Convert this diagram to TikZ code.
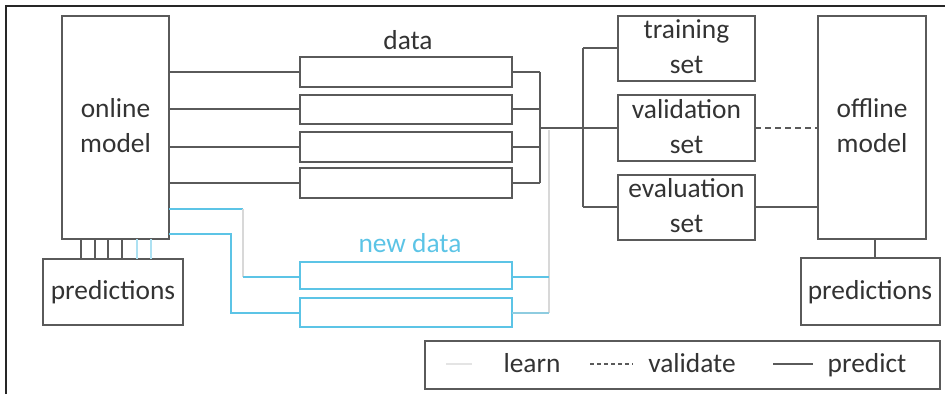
\documentclass[tikz,border=0pt]{standalone}
\usepackage{fontspec}
\setmainfont{Carlito}
\definecolor{ln}{HTML}{5A5A5A}
\definecolor{tx}{HTML}{333333}
\definecolor{nb}{HTML}{5CC4E6}
\definecolor{lg}{HTML}{D8D8D8}
\begin{document}
\begin{tikzpicture}[x=1bp,y=-1bp,
  every node/.style={font=\fontsize{27.5}{35}\selectfont, text=tx, align=center, inner sep=0pt},
  box/.style={draw=ln, line width=1.4bp, rectangle},
  wire/.style={draw=ln, line width=1.4bp},
  bwire/.style={draw=nb, line width=1.4bp},
  lwire/.style={draw=lg, line width=1.4bp},
  legtext/.style={anchor=base}]
\useasboundingbox (0,0) rectangle (945,394);
% frame
\draw[line width=1.4bp, draw=black!85] (6,394) -- (6,6) -- (945,6);
% online model
\draw[box] (62,16) rectangle (169,239);
\node (om) at (115.5,126) {online\\model};
% predictions left
\draw[box] (43,259) rectangle (183,325);
\node (pl) at (113,292) {predictions};
% data boxes
\foreach \ya/\yb in {57/87,95/124,132/162,168/198}{
  \draw[box] (300,\ya) rectangle (512,\yb);
}
\node (dl) at (408,40) {data};
% new data boxes
\draw[draw=nb, line width=1.4bp] (300,262) rectangle (512,289);
\draw[draw=nb, line width=1.4bp] (300,298) rectangle (512,327);
\node[text=nb] (ndl) at (410,243) {new data};
% online -> data
\foreach \y in {72,109,147,183}{
  \draw[wire] (169,\y) -- (300,\y);
  \draw[wire] (512,\y) -- (540,\y);
}
\draw[wire] (540,72) -- (540,183);
% training/validation/evaluation
\draw[box] (618,16) rectangle (755,81);
\node (tr) at (686.5,47) {training\\set};
\draw[box] (618,95) rectangle (755,161);
\node (va) at (686.5,127) {validation\\set};
\draw[box] (618,175) rectangle (755,240);
\node (ev) at (686.5,206) {evaluation\\set};
\draw[wire] (540,128) -- (618,128);
\draw[wire] (583,48) -- (583,207);
\draw[wire] (583,48) -- (618,48);
\draw[wire] (583,207) -- (618,207);
% offline model
\draw[box] (818,16) rectangle (926,239);
\node (of) at (872,126) {offline\\model};
\draw[wire, dash pattern=on 6bp off 4bp] (755,128) -- (818,128);
\draw[wire] (755,207) -- (818,207);
% predictions right
\draw[box] (801,258) rectangle (940,325);
\node (pr) at (870,292) {predictions};
\draw[wire] (875,239) -- (875,258);
% learn vertical
\draw[lwire] (549,130) -- (549,313);
% new data connections
\draw[bwire] (169,209) -- (243,209);
\draw[lwire] (243,209) -- (243,277);
\draw[bwire] (243,277) -- (300,277);
\draw[bwire] (169,234) -- (231,234) -- (231,313) -- (300,313);
\draw[bwire] (512,277) -- (549,277);
\draw[draw=nb!60!lg, line width=1.4bp] (512,313) -- (549,313);
% short lines online -> predictions
\foreach \x in {81,95,108,122}{ \draw[wire] (\x,239) -- (\x,259); }
\foreach \x in {137,151}{ \draw[draw=nb!50, line width=1.4bp] (\x,239) -- (\x,259); }
% legend
\draw[box] (425,341) rectangle (940,389);
\draw[draw=lg!70, line width=1.4bp] (446,364) -- (472,364);
\node[legtext] (lgl) at (532,372) {learn};
\draw[wire, dash pattern=on 4bp off 3bp] (590,364) -- (633,364);
\node[legtext] (lgv) at (692,372) {validate};
\draw[wire] (773,364) -- (813,364);
\node[legtext] (lgp) at (867,372) {predict};
\end{tikzpicture}
\end{document}
